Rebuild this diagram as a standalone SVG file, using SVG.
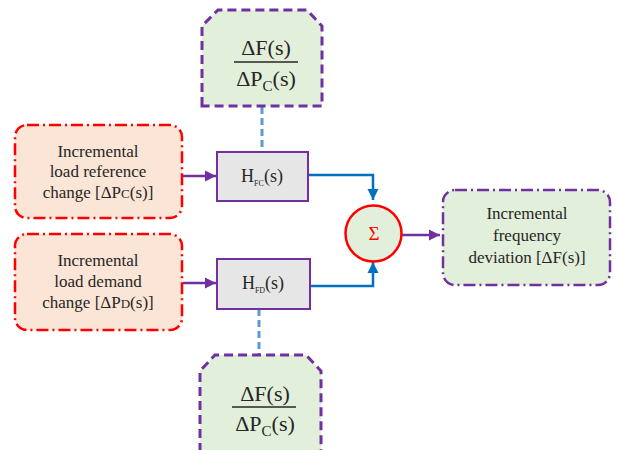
<svg xmlns="http://www.w3.org/2000/svg" width="619" height="450" viewBox="0 0 619 450">
<style>
.t{fill:#262626;text-anchor:middle;font-family:'Liberation Serif','Times New Roman',serif}
.lab{font-size:17px}
.frac{font-size:22px}
.inp{fill:#fbe5d6;stroke:#ff0000;stroke-width:2.5;stroke-dasharray:12 4 2 4}
.out{fill:#e2efda;stroke:#7030a0;stroke-width:2.5;stroke-dasharray:12 4 2 4}
.tf{fill:#e2efda;stroke:#7030a0;stroke-width:3;stroke-dasharray:9 5}
.blk{fill:#e7e6e6;stroke:#7030a0;stroke-width:2}
.pa{stroke:#7030a0;stroke-width:2.5;fill:none}
.ba{stroke:#0070c0;stroke-width:2.5;fill:none}
.dl{stroke:#5b9bd5;stroke-width:3;stroke-dasharray:7 4;fill:none}
</style>
<defs>
<marker id="ap" viewBox="0 0 10 10" refX="10" refY="5" markerWidth="4.5" markerHeight="4.5" orient="auto" markerUnits="strokeWidth"><path d="M0,0L10,5L0,10z" fill="#7030a0"/></marker>
<marker id="ab" viewBox="0 0 10 10" refX="10" refY="5" markerWidth="4.5" markerHeight="4.5" orient="auto" markerUnits="strokeWidth"><path d="M0,0L10,5L0,10z" fill="#0070c0"/></marker>
</defs>
<g id="connectors">
<line class="dl" x1="262" y1="107" x2="262" y2="152"/>
<line class="dl" x1="259" y1="309" x2="259" y2="354"/>
<line class="pa" x1="183" y1="176" x2="216" y2="176" marker-end="url(#ap)"/>
<line class="pa" x1="183" y1="283" x2="216" y2="283" marker-end="url(#ap)"/>
<polyline class="ba" points="308,175 373,175 373,200" marker-end="url(#ab)"/>
<polyline class="ba" points="310,286 373,286 373,262" marker-end="url(#ab)"/>
<line class="pa" x1="402" y1="235" x2="440" y2="235" marker-end="url(#ap)"/>
</g>
<g id="tf-top">
<path class="tf" d="M202,106V26L218,10H307L322,26V106Z"/>
<text class="t frac" x="266" y="55">ΔF(s)</text>
<line x1="234" y1="62" x2="298" y2="62" stroke="#262626" stroke-width="1.5"/>
<text class="t frac" x="266" y="86">ΔP<tspan font-size="15" dy="5">C</tspan><tspan dy="-5">(s)</tspan></text>
</g>
<g id="in-ref">
<rect class="inp" x="15" y="125" width="167" height="93" rx="12"/>
<text class="t lab" x="98" y="157">Incremental</text>
<text class="t lab" x="98" y="177">load reference</text>
<text class="t lab" x="98" y="198">change [ΔP<tspan font-size="13">C</tspan>(s)]</text>
</g>
<g id="in-demand">
<rect class="inp" x="15" y="234" width="167" height="96" rx="12"/>
<text class="t lab" x="98" y="266">Incremental</text>
<text class="t lab" x="98" y="287">load demand</text>
<text class="t lab" x="98" y="308">change [ΔP<tspan font-size="13">D</tspan>(s)]</text>
</g>
<g id="hfc">
<rect class="blk" x="217" y="152" width="91" height="49"/>
<text class="t" font-size="18" x="262" y="182">H<tspan font-size="8" dy="4">FC</tspan><tspan dy="-4">(s)</tspan></text>
</g>
<g id="hfd">
<rect class="blk" x="217" y="259" width="93" height="50"/>
<text class="t" font-size="18" x="263" y="289">H<tspan font-size="8" dy="4">FD</tspan><tspan dy="-4">(s)</tspan></text>
</g>
<g id="sum">
<circle cx="373.5" cy="233.5" r="28" fill="#e2efda" stroke="#ff0000" stroke-width="2.5"/>
<text class="t" font-size="19" x="374" y="240" style="fill:#ff0000">Σ</text>
</g>
<g id="out">
<rect class="out" x="443" y="190" width="167" height="95" rx="12"/>
<text class="t lab" x="527" y="219">Incremental</text>
<text class="t lab" x="527" y="241">frequency</text>
<text class="t lab" x="527" y="263">deviation [ΔF(s)]</text>
</g>
<g id="tf-bottom">
<path class="tf" d="M200,452V371L215,355H306L321,371V452"/>
<text class="t frac" x="265" y="401">ΔF(s)</text>
<line x1="232" y1="407" x2="296" y2="407" stroke="#262626" stroke-width="1.5"/>
<text class="t frac" x="265" y="431">ΔP<tspan font-size="15" dy="5">C</tspan><tspan dy="-5">(s)</tspan></text>
</g>
</svg>
